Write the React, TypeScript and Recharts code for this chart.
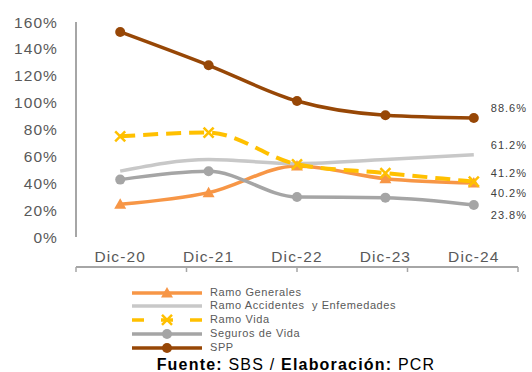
import React from 'react';
import { LineChart, Line, XAxis, YAxis, Legend, LabelList } from 'recharts';

const categories = ['Dic-20', 'Dic-21', 'Dic-22', 'Dic-23', 'Dic-24'];
const ramoGenerales = [24.3, 33.0, 52.8, 43.4, 40.2];
const ramoAccidentes = [49.0, 57.6, 54.6, 57.6, 61.2];
const ramoVida = [74.9, 77.7, 54.1, 47.6, 41.2];
const segurosVida = [42.7, 48.9, 29.8, 29.3, 23.8];
const spp = [152.6, 127.8, 101.2, 90.6, 88.6];
const yTicks = [0, 20, 40, 60, 80, 100, 120, 140, 160];
const boundaryTicks = [0, 1, 2, 3, 4, 5];

const data = categories.map((c, i) => ({
  cat: c,
  gen: ramoGenerales[i],
  acc: ramoAccidentes[i],
  vida: ramoVida[i],
  seg: segurosVida[i],
  spp: spp[i],
}));

const FONT = '"Liberation Sans", Arial, sans-serif';
const AXIS = '#A6A6A6';
const TEXT = '#595959';

type Marker = 'tri' | 'x' | 'circle' | 'none';
type S = { key: string; name: string; color: string; width: number; dash?: string; marker: Marker; labelDy: number };

const series: S[] = [
  { key: 'gen', name: 'Ramo Generales', color: '#F79646', width: 3.5, marker: 'tri', labelDy: 10 },
  { key: 'acc', name: 'Ramo Accidentes  y Enfemedades', color: '#C8C8C8', width: 3.5, marker: 'none', labelDy: -10 },
  { key: 'vida', name: 'Ramo Vida', color: '#FFC000', width: 4, dash: '15 8', marker: 'x', labelDy: -9 },
  { key: 'seg', name: 'Seguros de Vida', color: '#A5A5A5', width: 3.5, marker: 'circle', labelDy: 9.5 },
  { key: 'spp', name: 'SPP', color: '#974706', width: 3.5, marker: 'circle', labelDy: -9.5 },
];

function drawMarker(m: Marker, color: string, cx: number, cy: number, key?: any) {
  if (m === 'tri') {
    return <polygon key={key} points={`${cx},${cy - 6} ${cx - 6},${cy + 4.5} ${cx + 6},${cy + 4.5}`} fill={color} />;
  }
  if (m === 'x') {
    return (
      <g key={key} stroke={color} strokeWidth={2.5}>
        <line x1={cx - 5} y1={cy - 5} x2={cx + 5} y2={cy + 5} />
        <line x1={cx - 5} y1={cy + 5} x2={cx + 5} y2={cy - 5} />
      </g>
    );
  }
  if (m === 'circle') {
    return <circle key={key} cx={cx} cy={cy} r={5} fill={color} />;
  }
  return <g key={key} />;
}

const makeDot = (s: S) => (p: any) => {
  const { cx, cy, index } = p;
  if (cx == null || cy == null) return <g key={index} />;
  return drawMarker(s.marker, s.color, cx, cy, index);
};

const ROW = 13.9;

const CustomLegend = () => (
  <div style={{ fontFamily: FONT, fontSize: 11, color: TEXT, letterSpacing: 0.6 }}>
    {series.map((s) => (
      <div key={s.key} style={{ display: 'flex', alignItems: 'center', height: ROW }}>
        <svg width={70} height={ROW} style={{ display: 'block' }}>
          <line x1={0} x2={70} y1={ROW / 2} y2={ROW / 2} stroke={s.color} strokeWidth={3.5} strokeDasharray={s.dash ? '12 17' : undefined} />
          {s.marker !== 'none' ? drawMarker(s.marker, s.color, 35, ROW / 2) : null}
        </svg>
        <span style={{ marginLeft: 8, whiteSpace: 'pre', lineHeight: `${ROW}px` }}>{s.name}</span>
      </div>
    ))}
  </div>
);

export default function App() {
  return (
    <div style={{ position: 'absolute', left: 0, top: 0, width: 532, height: 372, background: '#fff' }}>
      <LineChart width={532} height={372} data={data} margin={{ top: 22, right: 14, left: 0, bottom: 104 }}>
        <XAxis
          xAxisId="b"
          type="number"
          domain={[0, 5]}
          ticks={boundaryTicks}
          allowDataOverflow
          height={1}
          tickSize={5}
          tickFormatter={() => ''}
          axisLine={{ stroke: AXIS, strokeWidth: 2 }}
          tickLine={{ stroke: AXIS, strokeWidth: 1.5 }}
        />
        <XAxis
          dataKey="cat"
          scale="band"
          height={30}
          axisLine={false}
          tickLine={false}
          tickSize={0}
          tickMargin={14}
          interval={0}
          tick={{ fill: TEXT, fontSize: 15.5, fontFamily: FONT, letterSpacing: 1.1 }}
        />
        <YAxis
          domain={[0, 160]}
          ticks={yTicks}
          interval={0}
          width={76}
          tickSize={0}
          tickMargin={18}
          tickLine={false}
          axisLine={{ stroke: AXIS, strokeWidth: 2 }}
          tickFormatter={(v: number) => `${v}%`}
          tick={{ fill: TEXT, fontSize: 15.5, fontFamily: FONT, letterSpacing: 1.1 }}
        />
        <Legend
          layout="horizontal"
          verticalAlign="middle"
          align="center"
          content={() => <CustomLegend />}
          wrapperStyle={{ left: 132, top: 285.5, width: 320, height: 70 }}
        />
        {series.map((s) => (
          <Line
            key={s.key}
            type="monotone"
            dataKey={s.key}
            name={s.name}
            stroke={s.color}
            strokeWidth={s.width}
            strokeDasharray={s.dash}
            dot={s.marker === 'none' ? false : makeDot(s)}
            activeDot={false}
            isAnimationActive={false}
          >
            <LabelList
              dataKey={s.key}
              content={(p: any) =>
                p.index === data.length - 1 ? (
                  <text
                    x={p.x + 17}
                    y={p.y + s.labelDy}
                    dominantBaseline="central"
                    textAnchor="start"
                    fill="#404040"
                    fontSize={11}
                    fontFamily={FONT}
                    letterSpacing={1}
                  >
                    {`${Number(p.value).toFixed(1)}%`}
                  </text>
                ) : null
              }
            />
          </Line>
        ))}
      </LineChart>
      <div
        style={{
          position: 'absolute',
          left: 60,
          width: 472,
          top: 356,
          textAlign: 'center',
          fontFamily: FONT,
          fontSize: 16,
          lineHeight: '18px',
          letterSpacing: 1.2,
          color: '#000',
        }}
      >
        <b>Fuente:</b> SBS / <b>Elaboración:</b> PCR
      </div>
    </div>
  );
}
